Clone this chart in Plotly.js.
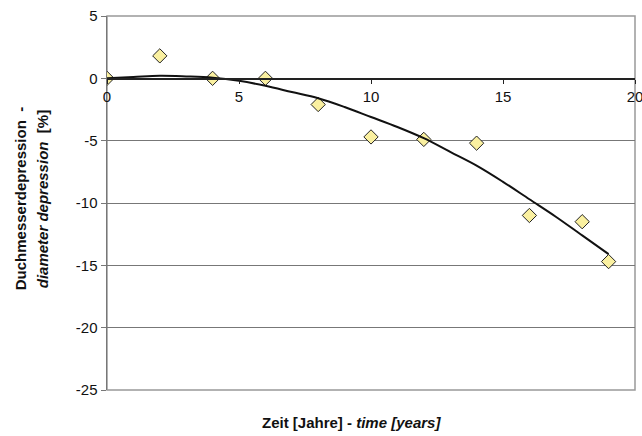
<!DOCTYPE html>
<html>
<head>
<meta charset="utf-8">
<script src="https://cdn.plot.ly/plotly-3.0.1.min.js"></script>
<style>html,body{margin:0;padding:0;background:#fff;}#chart{width:642px;height:436px;}</style>
</head>
<body>
<div id="chart"></div>
<script>
// measured points
const years = [0, 2, 4, 6, 8, 10, 12, 14, 16, 18, 19];
const depression = [0, 1.8, 0, 0, -2.1, -4.7, -4.9, -5.2, -11.0, -11.5, -14.7];
// trend line
const trendYears = [0, 1, 2, 3, 4, 5, 6, 7, 8, 9, 10, 11, 12, 13, 14, 15, 16, 17, 18, 19];
const trendValues = [0, 0.1, 0.2, 0.15, 0.05, -0.2, -0.6, -1.1, -1.6, -2.3, -3.1, -3.9, -4.8, -5.9, -7.0, -8.3, -9.7, -11.1, -12.6, -14.1];
const xTicks = [0, 5, 10, 15, 20];
const yTicks = [5, 0, -5, -10, -15, -20, -25];

const font = "Liberation Sans, Arial, sans-serif";

const traces = [
  {x: years, y: depression, type: 'scatter', mode: 'markers',
   marker: {symbol: 'diamond', size: 11, color: '#FAF0A0', line: {color: '#222', width: 1}}},
  {x: trendYears, y: trendValues, type: 'scatter', mode: 'lines',
   line: {color: '#111', width: 2, shape: 'spline'}, hoverinfo: 'skip'}
];

const layout = {
  width: 642, height: 436,
  margin: {l: 107, r: 7, t: 16, b: 46},
  paper_bgcolor: '#fff', plot_bgcolor: '#fff',
  showlegend: false,
  font: {family: font, size: 15, color: '#111'},
  xaxis: {
    range: [0, 20], tickvals: xTicks, ticktext: xTicks.map(String),
    anchor: 'free', position: 25/30,
    showgrid: false, zeroline: false,
    showline: true, linecolor: '#222', linewidth: 1.5,
    ticks: 'outside', ticklen: 4, tickcolor: '#222',
    ticklabeloverflow: 'allow',
    tickfont: {family: font, size: 15, color: '#111'}
  },
  yaxis: {
    range: [-25, 5], tickvals: yTicks, ticktext: yTicks.map(String),
    showgrid: true, gridcolor: '#777', gridwidth: 1,
    zeroline: false, showline: true, linecolor: '#777', linewidth: 1.5,
    ticks: 'outside', ticklen: 5, tickcolor: '#777',
    tickfont: {family: font, size: 15, color: '#111'}
  },
  shapes: [
    {type: 'rect', xref: 'paper', yref: 'paper', x0: 0, x1: 1, y0: 0, y1: 1,
     line: {color: '#999', width: 1.5}, fillcolor: 'rgba(0,0,0,0)', layer: 'below'}
  ],
  annotations: [
    {text: '<b>Duchmesserdepression  -</b>', xref: 'paper', yref: 'paper',
     x: (20 - 107) / 528, y: 0.51, textangle: -90, showarrow: false,
     xanchor: 'center', yanchor: 'middle', font: {family: font, size: 15, color: '#111'}},
    {text: '<b><i>diameter depression</i>  [%]</b>', xref: 'paper', yref: 'paper',
     x: (42 - 107) / 528, y: 0.51, textangle: -90, showarrow: false,
     xanchor: 'center', yanchor: 'middle', font: {family: font, size: 15, color: '#111'}},
    {text: '<b>Zeit [Jahre] - <i>time [years]</i></b>', xref: 'paper', yref: 'paper',
     x: (351 - 107) / 528, y: -(423 - 390) / 374, showarrow: false,
     xanchor: 'center', yanchor: 'middle', font: {family: font, size: 15, color: '#111'}}
  ]
};

Plotly.newPlot('chart', traces, layout, {displayModeBar: false, staticPlot: true});
</script>
</body>
</html>
